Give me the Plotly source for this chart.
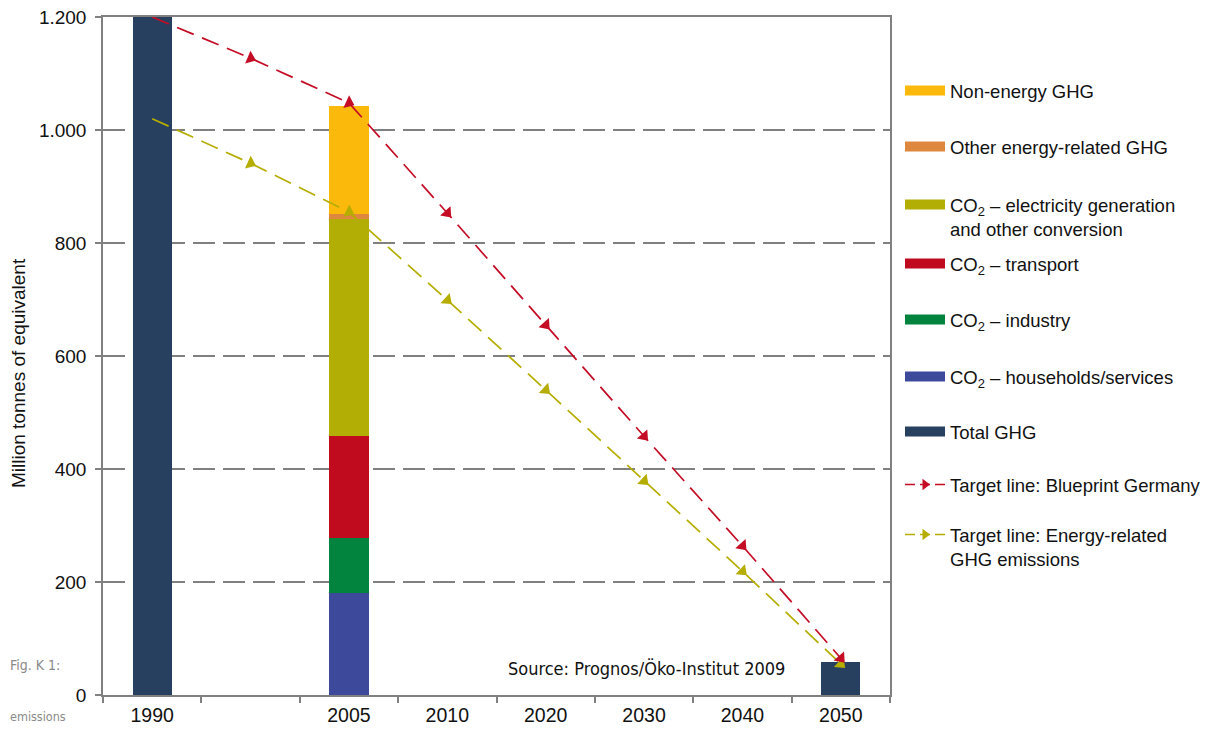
import plotly.graph_objects as go

# ---------------- data ----------------
categories = ["1990", " ", "2005", "2010", "2020", "2030", "2040", "2050"]

total_x = ["1990", "2050"]
total_ghg = [1200, 59]

sector_x = ["2005"]
households = [180]
industry = [98]
transport = [180]
electricity = [384]
other_energy = [9]
non_energy = [191]

blueprint = [1200, 1127, 1048, 853, 655, 458, 264, 65]
energy_related = [1020, 941, 855, 699, 540, 379, 219, 55]

y_tickvals = [0, 200, 400, 600, 800, 1000, 1200]
y_ticktext = ["0", "200", "400", "600", "800", "1.000", "1.200"]

legend_names = [
    "Non-energy GHG",
    "Other energy-related GHG",
    "CO<sub>2</sub> – electricity generation<br>and other conversion",
    "CO<sub>2</sub> – transport",
    "CO<sub>2</sub> – industry",
    "CO<sub>2</sub> – households/services",
    "Total GHG",
    "Target line: Blueprint Germany",
    "Target line: Energy-related<br>GHG emissions",
]

# ---------------- styles ----------------
C_NAVY = "#27405f"
C_YEL = "#fbba0b"
C_ORA = "#de873f"
C_OLI = "#b3ae05"
C_RED = "#c00a1e"
C_GRN = "#03843e"
C_BLU = "#3d4a9c"
L_RED = "#c40d25"
L_OLI = "#b5ad00"
GRAY = "#808080"
FONT = "Liberation Sans, Arial, Helvetica, sans-serif"
NARROW = "DejaVu Sans Condensed, Liberation Sans Narrow, sans-serif"

# page offset (browser body margin) compensation
OFF = 8
W, H = 1214 - 2 * OFF, 733 - 2 * OFF
PL, PR, PT, PB = 103, 890, 17, 695  # plot area in window pixels

fig = go.Figure()

BW = 0.4
fig.add_trace(go.Bar(x=total_x, y=total_ghg, width=BW, marker_color=C_NAVY,
                     marker_line_width=0, showlegend=False))
for vals, col in [(households, C_BLU), (industry, C_GRN), (transport, C_RED),
                  (electricity, C_OLI), (other_energy, C_ORA), (non_energy, C_YEL)]:
    fig.add_trace(go.Bar(x=sector_x, y=vals, width=BW, marker_color=col,
                         marker_line_width=0, showlegend=False))

for vals, col in [(energy_related, L_OLI), (blueprint, L_RED)]:
    fig.add_trace(go.Scatter(
        x=categories, y=vals, mode="lines+markers", cliponaxis=False,
        line=dict(color=col, width=1.7, dash="18px,9px"),
        marker=dict(symbol="triangle-up", angleref="previous",
                    size=[0] + [12] * (len(vals) - 1), color=col,
                    opacity=1, line=dict(width=0)),
        showlegend=False))

# legend entries (one legend box per entry, placed like the original)
legend_colors = [C_YEL, C_ORA, C_OLI, C_RED, C_GRN, C_BLU, C_NAVY, L_RED, L_OLI]
legend_ypx = [91, 147, 217, 264, 320, 377, 432, 485, 547]

layout_legends = {}
for i, (name, col, ypx) in enumerate(zip(legend_names, legend_colors, legend_ypx)):
    key = "legend" if i == 0 else f"legend{i + 1}"
    if i < 7:
        tr = go.Scatter(x=[None], y=[None], mode="lines", name=name,
                        line=dict(color=col, width=10), legend=key)
    else:
        tr = go.Scatter(x=[None], y=[None], mode="lines+markers", name=name,
                        line=dict(color=col, width=1.6, dash="10px,5px"),
                        marker=dict(symbol="triangle-right", size=10, color=col),
                        legend=key)
    fig.add_trace(tr)
    layout_legends[key] = dict(
        x=(900 - PL) / (PR - PL), xanchor="left",
        y=(PB - ypx) / (PB - PT), yanchor="middle",
        bgcolor="rgba(0,0,0,0)", borderwidth=0,
        font=dict(family=FONT, size=18.5, color="#111111"),
        itemwidth=40, valign="top", itemclick=False, itemdoubleclick=False,
    )

fig.update_layout(
    width=W, height=H,
    margin=dict(l=PL - OFF, r=W - (PR - OFF), t=PT - OFF, b=H - (PB - OFF),
                autoexpand=False),
    paper_bgcolor="white", plot_bgcolor="white",
    barmode="stack", bargap=0.6,
    font=dict(family=FONT, size=19, color="#111111"),
    xaxis=dict(type="category", categoryorder="array", categoryarray=categories,
               range=[-0.5, len(categories) - 0.5], tickson="boundaries",
               ticks="outside", ticklen=6, tickcolor=GRAY, tickwidth=1.5,
               showline=True, linecolor=GRAY, linewidth=1.5, mirror=True,
               showgrid=False, automargin=False, ticklabelstandoff=2,
               ticklabeloverflow="allow",
               tickfont=dict(size=19.5, color="#111111")),
    yaxis=dict(range=[0, 1200], tickvals=y_tickvals, ticktext=y_ticktext,
               ticks="outside", ticklen=6, tickcolor=GRAY, tickwidth=1.5,
               showline=True, linecolor=GRAY, linewidth=1.5, mirror=True,
               showgrid=True, gridcolor=GRAY, gridwidth=1.5, griddash="22px,8px",
               zeroline=False, automargin=False, ticklabelstandoff=5,
               ticklabeloverflow="allow",
               tickfont=dict(size=19, color="#111111")),
    **layout_legends,
)

def px_x(x):
    return (x - PL) / (PR - PL)

def px_y(y):
    return (PB - y) / (PB - PT)

fig.add_annotation(text="Million tonnes of equivalent", textangle=-90,
                   xref="paper", yref="paper", x=px_x(18), y=px_y(373),
                   xanchor="center", yanchor="middle", showarrow=False,
                   font=dict(family=FONT, size=19, color="#111111"))
fig.add_annotation(text="Source: Prognos/Öko-Institut 2009",
                   xref="paper", yref="paper", x=px_x(506),
                   y=px_y(668), xanchor="left", yanchor="middle",
                   showarrow=False, font=dict(family=NARROW, size=18, color="#111111"))
fig.add_annotation(text="Fig. K 1:", xref="paper", yref="paper",
                   x=px_x(62), y=px_y(665), xanchor="right",
                   yanchor="middle", showarrow=False,
                   font=dict(family=NARROW, size=14, color="#8a8a8a"))
fig.add_annotation(text="emissions", xref="paper", yref="paper",
                   x=px_x(68), y=px_y(716), xanchor="right",
                   yanchor="middle", showarrow=False,
                   font=dict(family=NARROW, size=12.5, color="#8a8a8a"))

fig.write_html("out.html")
